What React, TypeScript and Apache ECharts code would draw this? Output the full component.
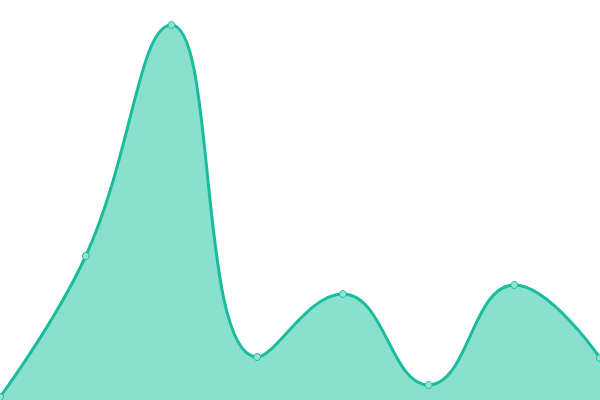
import React, { useEffect, useRef } from 'react';
import * as echarts from 'echarts';

const categories = ['A', 'B', 'C', 'D', 'E', 'F', 'G', 'H'];
const values = [3, 144, 375, 43, 106, 15, 115, 42];

const App: React.FC = () => {
  const chartRef = useRef<HTMLDivElement>(null);

  useEffect(() => {
    if (!chartRef.current) return;
    const chart = echarts.init(chartRef.current, undefined, { renderer: 'svg' });
    const option = {
      animation: false,
      grid: { left: 0, right: 0, top: 0, bottom: 0 },
      xAxis: {
        type: 'category',
        data: categories,
        boundaryGap: false,
        show: false,
      },
      yAxis: {
        type: 'value',
        min: 0,
        max: 400,
        show: false,
      },
      series: [
        {
          type: 'line',
          data: values,
          smooth: 0.45,
          symbol: 'circle',
          symbolSize: 7,
          lineStyle: { color: '#1abc9c', width: 3 },
          itemStyle: { color: '#8ee4d2', borderColor: '#1abc9c', borderWidth: 1 },
          areaStyle: { color: '#8ae0cf', opacity: 1 },
        },
      ],
    };
    chart.setOption(option as any);
    return () => {
      chart.dispose();
    };
  }, []);

  return (
    <div
      ref={chartRef}
      style={{ position: 'fixed', left: 0, top: 0, width: 600, height: 400 }}
    />
  );
};

export default App;
